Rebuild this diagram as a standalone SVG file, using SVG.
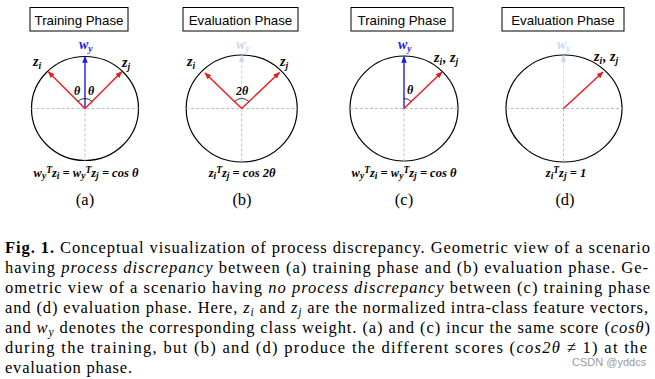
<svg xmlns="http://www.w3.org/2000/svg" width="655" height="379" viewBox="0 0 655 379">
<style>
.box{fill:#fff;stroke:#000;stroke-width:1}
.bt{font-family:"Liberation Sans",Arial,sans-serif;font-size:13.3px;fill:#000;text-anchor:middle}
.circ{fill:none;stroke:#000;stroke-width:1.2}
.dash{stroke:#bfbfbf;stroke-width:1;stroke-dasharray:3,2;fill:none}
.red{stroke:#f01818;stroke-width:1.4;fill:none;marker-end:url(#ar)}
.blue{stroke:#1c1cf0;stroke-width:1.4;fill:none;marker-end:url(#ab)}
.lb{stroke:#c6d9f0;stroke-width:1;stroke-dasharray:3,2;fill:none;marker-end:url(#al)}
.ang{stroke:#000;stroke-width:0.8;fill:none}
.m{font-family:"Liberation Serif","Times New Roman",serif;font-weight:bold;font-style:italic;font-size:14px;fill:#000}
.mb{fill:#1c1cf0}
.ml{fill:#c6d9f0}
.s{font-size:9.5px}
.f{font-family:"Liberation Serif","Times New Roman",serif;font-weight:bold;font-style:italic;font-size:12.5px;fill:#000;text-anchor:middle}
.lab{font-family:"Liberation Serif","Times New Roman",serif;font-size:16.5px;fill:#000;text-anchor:middle}
.cap{font-family:"Liberation Serif","Times New Roman",serif;font-size:16.5px;fill:#000}
.it{font-style:italic}
.wm{font-family:"Liberation Sans",Arial,sans-serif;font-size:11px;fill:#9a9a9a}
</style>
<defs>
<marker id="ar" viewBox="0 0 10 10" refX="9" refY="5" markerWidth="7" markerHeight="7" markerUnits="userSpaceOnUse" orient="auto"><path d="M0,1 L10,5 L0,9 z" fill="#f01818"/></marker>
<marker id="ab" viewBox="0 0 10 10" refX="9" refY="5" markerWidth="7" markerHeight="7" markerUnits="userSpaceOnUse" orient="auto"><path d="M0,1 L10,5 L0,9 z" fill="#1c1cf0"/></marker>
<marker id="al" viewBox="0 0 10 10" refX="9" refY="5" markerWidth="7" markerHeight="7" markerUnits="userSpaceOnUse" orient="auto"><path d="M0,1 L10,5 L0,9 z" fill="#c6d9f0"/></marker>
</defs>

<!-- Panel (a) -->
<g id="panel-a">
<rect class="box" x="30" y="7.5" width="98" height="23.5"/>
<text class="bt" x="79" y="24.5">Training Phase</text>
<ellipse class="circ" cx="85" cy="108.5" rx="53.5" ry="52"/>
<text class="m mb" x="79" y="49">w<tspan class="s" dy="2.5">y</tspan></text>
<text class="m" x="33" y="66">z<tspan class="s" dy="2.5">i</tspan></text>
<text class="m" x="122" y="67">z<tspan class="s" dy="2.5">j</tspan></text>
<text class="m" x="74" y="95" style="font-size:12px">θ</text>
<text class="m" x="88" y="95" style="font-size:12px">θ</text>
<text class="f" x="86" y="177">w<tspan class="s" dy="2">y</tspan><tspan class="s" dy="-6.5">T</tspan><tspan dy="4.5">z</tspan><tspan class="s" dy="2">i</tspan><tspan dy="-2"> = w</tspan><tspan class="s" dy="2">y</tspan><tspan class="s" dy="-6.5">T</tspan><tspan dy="4.5">z</tspan><tspan class="s" dy="2">j</tspan><tspan dy="-2"> = cos θ</tspan></text>
<text class="lab" x="85" y="205">(a)</text>
</g>

<!-- Panel (b) -->
<g id="panel-b">
<rect class="box" x="183" y="7.5" width="115" height="23.5"/>
<text class="bt" x="240.5" y="24.5">Evaluation Phase</text>
<ellipse class="circ" cx="241.7" cy="108.5" rx="55.5" ry="53.5"/>
<text class="m ml" x="236" y="49">w<tspan class="s" dy="2.5">y</tspan></text>
<text class="m" x="187" y="66">z<tspan class="s" dy="2.5">i</tspan></text>
<text class="m" x="280" y="66">z<tspan class="s" dy="2.5">j</tspan></text>
<text class="m" x="242" y="95" style="font-size:12px;text-anchor:middle">2θ</text>
<text class="f" x="242" y="177">z<tspan class="s" dy="2">i</tspan><tspan class="s" dy="-6.5">T</tspan><tspan dy="4.5">z</tspan><tspan class="s" dy="2">j</tspan><tspan dy="-2"> = cos 2θ</tspan></text>
<text class="lab" x="242" y="205">(b)</text>
</g>

<!-- Panel (c) -->
<g id="panel-c">
<rect class="box" x="351" y="7.5" width="102" height="23.5"/>
<text class="bt" x="402" y="24.5">Training Phase</text>
<ellipse class="circ" cx="404" cy="108.5" rx="54" ry="52.5"/>
<text class="m mb" x="398" y="49">w<tspan class="s" dy="2.5">y</tspan></text>
<text class="m" x="434" y="62">z<tspan class="s" dy="2.5">i</tspan><tspan dy="-2.5" dx="1">, z</tspan><tspan class="s" dy="2.5">j</tspan></text>
<text class="m" x="407" y="94" style="font-size:12px">θ</text>
<text class="f" x="404" y="177">w<tspan class="s" dy="2">y</tspan><tspan class="s" dy="-6.5">T</tspan><tspan dy="4.5">z</tspan><tspan class="s" dy="2">i</tspan><tspan dy="-2"> = w</tspan><tspan class="s" dy="2">y</tspan><tspan class="s" dy="-6.5">T</tspan><tspan dy="4.5">z</tspan><tspan class="s" dy="2">j</tspan><tspan dy="-2"> = cos θ</tspan></text>
<text class="lab" x="404" y="205">(c)</text>
</g>

<!-- Panel (d) -->
<g id="panel-d">
<rect class="box" x="502" y="7.5" width="122" height="23.5"/>
<text class="bt" x="563" y="24.5">Evaluation Phase</text>
<ellipse class="circ" cx="564" cy="108.5" rx="58" ry="53.5"/>
<text class="m ml" x="557" y="49">w<tspan class="s" dy="2.5">y</tspan></text>
<text class="m" x="594" y="61">z<tspan class="s" dy="2.5">i</tspan><tspan dy="-2.5" dx="1">, z</tspan><tspan class="s" dy="2.5">j</tspan></text>
<text class="f" x="566" y="177">z<tspan class="s" dy="2">i</tspan><tspan class="s" dy="-6.5">T</tspan><tspan dy="4.5">z</tspan><tspan class="s" dy="2">j</tspan><tspan dy="-2"> = 1</tspan></text>
<text class="lab" x="565" y="205">(d)</text>
</g>

<g id="connectors">
<!-- a -->
<line class="dash" x1="31.5" y1="108.5" x2="138.5" y2="108.5"/>
<line class="dash" x1="85" y1="108.5" x2="85" y2="160.5"/>
<line class="blue" x1="85" y1="108.5" x2="85" y2="56.5"/>
<line class="red" x1="85" y1="108.5" x2="48.3" y2="71.8"/>
<line class="red" x1="85" y1="108.5" x2="121.7" y2="71.8"/>
<path class="ang" d="M77.9,101.4 A10,10 0 0,1 85,98.5 M85,98.5 A10,10 0 0,1 92.1,101.4"/>
<!-- b -->
<line class="dash" x1="186.2" y1="108.5" x2="297.2" y2="108.5"/>
<line class="dash" x1="241.7" y1="108.5" x2="241.7" y2="162"/>
<line class="lb" x1="241.7" y1="108.5" x2="241.7" y2="55.5"/>
<line class="red" x1="241.7" y1="108.5" x2="205" y2="73"/>
<line class="red" x1="241.7" y1="108.5" x2="279.5" y2="72.5"/>
<path class="ang" d="M234.6,101.4 A10,10 0 0,1 248.8,101.4"/>
<!-- c -->
<line class="dash" x1="350" y1="108.5" x2="458" y2="108.5"/>
<line class="dash" x1="404" y1="108.5" x2="404" y2="161"/>
<line class="blue" x1="404" y1="108.5" x2="404" y2="56.5"/>
<line class="red" x1="404" y1="108.5" x2="442" y2="72"/>
<path class="ang" d="M404,98.5 A10,10 0 0,1 411.1,101.4"/>
<!-- d -->
<line class="dash" x1="506" y1="108.5" x2="622" y2="108.5"/>
<line class="dash" x1="563.5" y1="108.5" x2="563.5" y2="162"/>
<line class="lb" x1="563.5" y1="108.5" x2="563.5" y2="55.5"/>
<line class="red" x1="563.5" y1="108.5" x2="603" y2="72"/>
</g>

<g id="caption">
<text class="cap" x="5" y="253" textLength="645" lengthAdjust="spacing"><tspan font-weight="bold">Fig. 1.</tspan> Conceptual visualization of process discrepancy. Geometric view of a scenario</text>
<text class="cap" x="5" y="273" textLength="643" lengthAdjust="spacing">having <tspan class="it">process discrepancy</tspan> between (a) training phase and (b) evaluation phase. Ge-</text>
<text class="cap" x="5" y="293" textLength="645" lengthAdjust="spacing">ometric view of a scenario having <tspan class="it">no process discrepancy</tspan> between (c) training phase</text>
<text class="cap" x="5" y="313" textLength="643" lengthAdjust="spacing">and (d) evaluation phase. Here, <tspan class="it">z</tspan><tspan class="it" font-size="11.5" dy="3">i</tspan><tspan dy="-3"> and </tspan><tspan class="it">z</tspan><tspan class="it" font-size="11.5" dy="3">j</tspan><tspan dy="-3"> are the normalized intra-class feature vectors,</tspan></text>
<text class="cap" x="5" y="333" textLength="645" lengthAdjust="spacing">and <tspan class="it">w</tspan><tspan class="it" font-size="11.5" dy="3">y</tspan><tspan dy="-3"> denotes the corresponding class weight. (a) and (c) incur the same score (</tspan><tspan class="it">cosθ</tspan>)</text>
<text class="cap" x="5" y="353" textLength="642" lengthAdjust="spacing">during the training, but (b) and (d) produce the different scores (<tspan class="it">cos2θ</tspan> ≠ 1) at the</text>
<text class="cap" x="5" y="373" textLength="127" lengthAdjust="spacing">evaluation phase.</text>
</g>
<text class="wm" x="572" y="366">CSDN @yddcs</text>
</svg>
